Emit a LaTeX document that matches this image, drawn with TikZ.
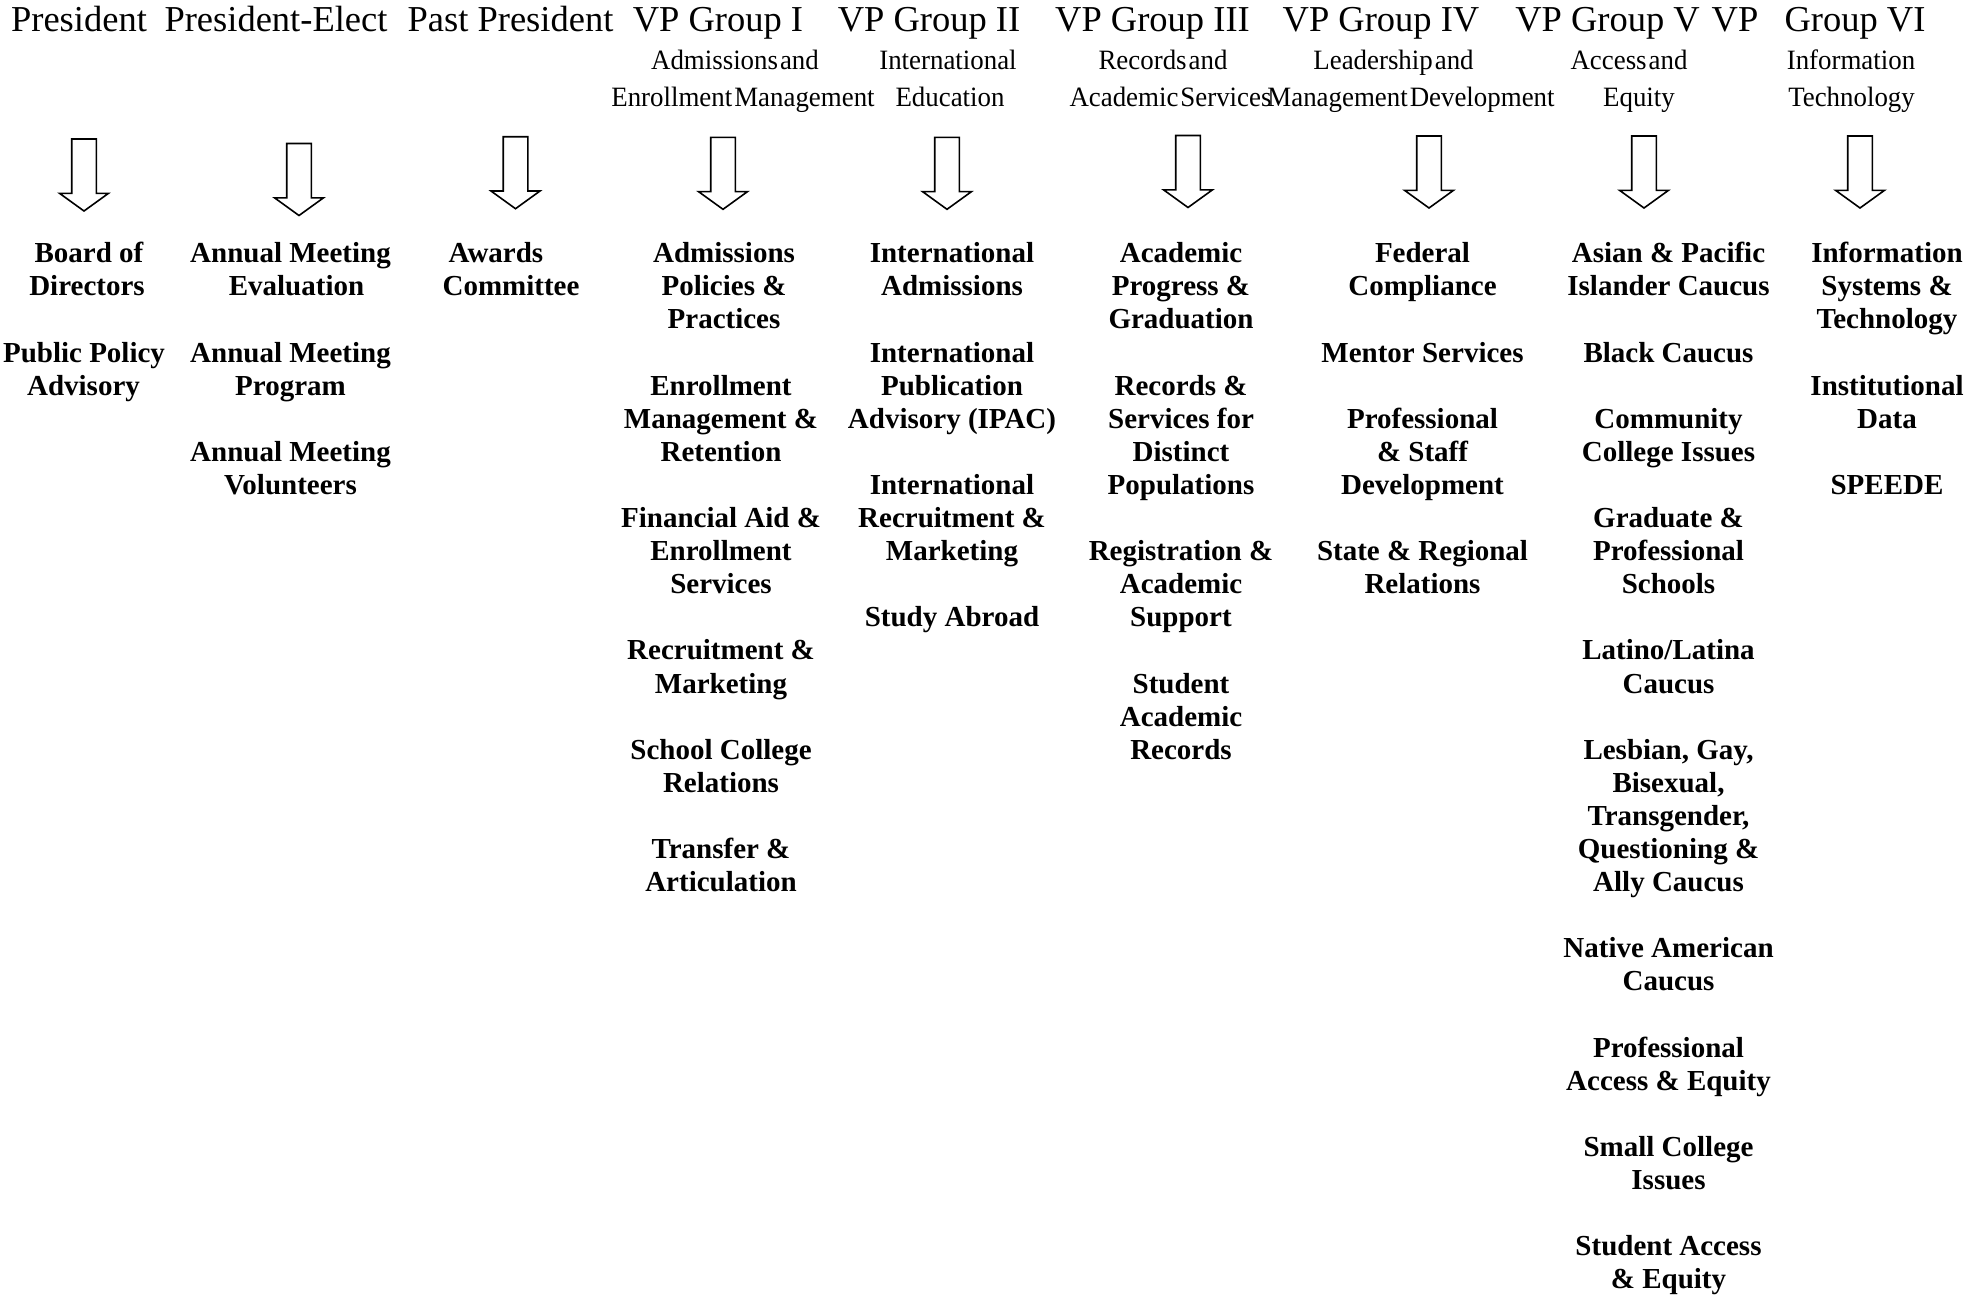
\documentclass[tikz,border=0pt]{standalone}
\usepackage{fontspec}
\setmainfont{Liberation Serif}
\newfontfamily\subfont[WordSpace=0.3,FakeStretch=0.96]{Liberation Serif}
\tikzset{
  headtext/.style={font=\fontsize{36.5}{36.5}\selectfont, anchor=base, inner sep=0pt},
  subtext/.style={font=\subfont\fontsize{28}{28}\selectfont, anchor=base, inner sep=0pt},
  bodytext/.style={font=\bfseries\fontsize{29}{29}\selectfont, anchor=base, inner sep=0pt},
  blockarrow/.style={draw=black, line width=1.6pt, fill=white, line join=miter},
  downarrow/.pic={\draw[blockarrow] (-12.3,0) -- (12.3,0) -- (12.3,54.3) -- (24.5,54.3)
      -- (0,72) -- (-24.5,54.3) -- (-12.3,54.3) -- cycle;}
}
\begin{document}
\begin{tikzpicture}[x=1pt,y=-1pt]
\useasboundingbox[fill=white] (0,0) rectangle (1988,1296);

% headers
\node[headtext] (h1) at (79,31.5) {President};
\node[headtext] (h2) at (276,31.5) {President-Elect};
\node[headtext] (h3) at (510.5,31.5) {Past President};
\node[headtext] (h4) at (718,31.5) {VP Group I};
\node[headtext] (h5) at (929,31.5) {VP Group II};
\node[headtext] (h6) at (1152.5,31.5) {VP Group III};
\node[headtext] (h7) at (1381,31.5) {VP Group IV};
\node[headtext] (h8) at (1607.5,31.5) {VP Group V};
\node[headtext] (h9a) at (1735,31.5) {VP};
\node[headtext] (h9b) at (1855,31.5) {Group VI};

% subtitles
\node[subtext] (s4a) at (735,69) {Admissions and};
\node[subtext] (s4b) at (743,106) {Enrollment Management};
\node[subtext] (s5a) at (948,69) {International};
\node[subtext] (s5b) at (950,106) {Education};
\node[subtext] (s6a) at (1163,69) {Records and};
\node[subtext] (s6b) at (1170.5,106) {Academic Services};
\node[subtext] (s7a) at (1393.5,69) {Leadership and};
\node[subtext] (s7b) at (1411,106) {Management Development};
\node[subtext] (s8a) at (1629,69) {Access and};
\node[subtext] (s8b) at (1639,106) {Equity};
\node[subtext] (s9a) at (1851,69) {Information};
\node[subtext] (s9b) at (1851.5,106) {Technology};

% arrows
\pic at (84,139) {downarrow};
\pic at (299,143.5) {downarrow};
\pic at (515.5,136.7) {downarrow};
\pic at (723,137.3) {downarrow};
\pic at (947,137.3) {downarrow};
\pic at (1188,135.5) {downarrow};
\pic at (1429,136) {downarrow};
\pic at (1644,136) {downarrow};
\pic at (1860,136) {downarrow};

% column 1
\foreach \x/\k/\t in {89/0/Board of, 87/1/Directors, 84/3/Public Policy, 83.5/4/Advisory}
  \node[bodytext] (ca-\k) at (\x,{262.7+33.1*\k}) {\t};
% column 2
\foreach \x/\k/\t in {290.5/0/Annual Meeting, 296.5/1/Evaluation, 290.5/3/Annual Meeting,
    290.5/4/Program, 290.5/6/Annual Meeting, 290.5/7/Volunteers}
  \node[bodytext] (cb-\k) at (\x,{262.7+33.1*\k}) {\t};
% column 3
\foreach \x/\k/\t in {496/0/Awards, 511/1/Committee}
  \node[bodytext] (cc-\k) at (\x,{262.7+33.1*\k}) {\t};
% column 4
\foreach \x/\k/\t in {724/0/Admissions, 724/1/Policies \&, 724/2/Practices,
    721/4/Enrollment, 721/5/Management \&, 721/6/Retention,
    721/8/Financial Aid \&, 721/9/Enrollment, 721/10/Services,
    721/12/Recruitment \&, 721/13/Marketing,
    721/15/School College, 721/16/Relations,
    721/18/Transfer \&, 721/19/Articulation}
  \node[bodytext] (cd-\k) at (\x,{262.7+33.1*\k}) {\t};
% column 5
\foreach \k/\t in {0/International, 1/Admissions, 3/International, 4/Publication,
    5/Advisory (IPAC), 7/International, 8/Recruitment \&, 9/Marketing, 11/Study Abroad}
  \node[bodytext] (ce-\k) at (952,{262.7+33.1*\k}) {\t};
% column 6
\foreach \k/\t in {0/Academic, 1/Progress \&, 2/Graduation, 4/Records \&, 5/Services for,
    6/Distinct, 7/Populations, 9/Registration \&, 10/Academic, 11/Support,
    13/Student, 14/Academic, 15/Records}
  \node[bodytext] (cf-\k) at (1181,{262.7+33.1*\k}) {\t};
% column 7
\foreach \k/\t in {0/Federal, 1/Compliance, 3/Mentor Services, 5/Professional,
    6/\& Staff, 7/Development, 9/State \& Regional, 10/Relations}
  \node[bodytext] (cg-\k) at (1422.5,{262.7+33.1*\k}) {\t};
% column 8
\foreach \k/\t in {0/Asian \& Pacific, 1/Islander Caucus, 3/Black Caucus, 5/Community,
    6/College Issues, 8/Graduate \&, 9/Professional, 10/Schools, 12/{Latino/Latina},
    13/Caucus, 15/{Lesbian, Gay,}, 16/{Bisexual,}, 17/{Transgender,}, 18/Questioning \&,
    19/Ally Caucus, 21/Native American, 22/Caucus, 24/Professional, 25/Access \& Equity,
    27/Small College, 28/Issues, 30/Student Access, 31/\& Equity}
  \node[bodytext] (ch-\k) at (1668.5,{262.7+33.1*\k}) {\t};
% column 9
\foreach \k/\t in {0/Information, 1/Systems \&, 2/Technology, 4/Institutional, 5/Data, 7/SPEEDE}
  \node[bodytext] (ci-\k) at (1887,{262.7+33.1*\k}) {\t};
\end{tikzpicture}
\end{document}
